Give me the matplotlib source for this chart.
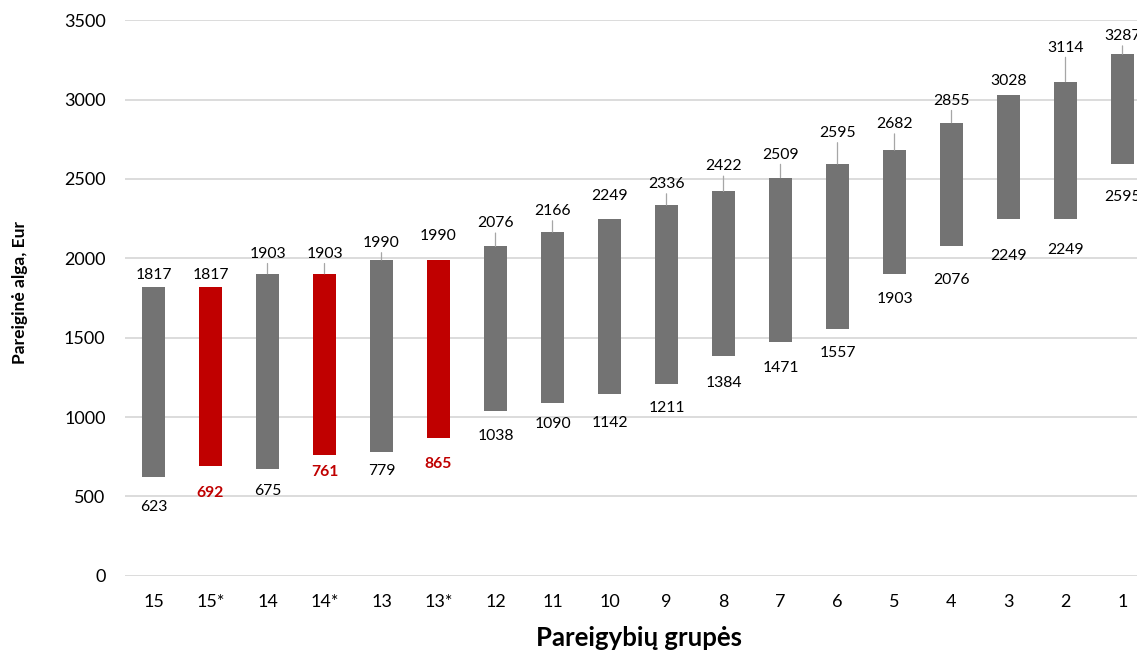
import numpy as np
import matplotlib
matplotlib.use("Agg")
import matplotlib.pyplot as plt

plt.rcParams['font.family'] = ['Lato', 'DejaVu Sans']

# pareigybių grupės ir algų ribos
grupes = ['15', '15*', '14', '14*', '13', '13*', '12', '11', '10', '9',
          '8', '7', '6', '5', '4', '3', '2', '1']
alga_min = [623, 692, 675, 761, 779, 865, 1038, 1090, 1142, 1211,
            1384, 1471, 1557, 1903, 2076, 2249, 2249, 2595]
alga_max = [1817, 1817, 1903, 1903, 1990, 1990, 2076, 2166, 2249, 2336,
            2422, 2509, 2595, 2682, 2855, 3028, 3114, 3287]
raudonos = ['15*', '14*', '13*']

# etikečių atstumai (px) nuo stulpelio galų, kaip originale
virsus_px = [12, 12, 20, 20, 17, 24, 23, 21, 23, 21, 25, 23, 31, 26, 22, 14, 34, 18]
apacia_px = [30, 27, 22, 17, 19, 26, 25, 21, 29, 24, 27, 26, 24, 25, 34, 37, 31, 33]
linija = [False, False, True, True, True, False, True, True, False, True,
          True, True, True, True, True, False, True, True]

pilka = '#737373'
raudona = '#C00000'

W, H = 1137, 651
fig = plt.figure(figsize=(W / 100, H / 100), dpi=100)
x = np.arange(len(grupes))
zing = 57.0
ax = fig.add_axes([125 / W, (H - 575.7) / H, 18 * zing / W, 555.4 / H])

spalvos = [raudona if g in raudonos else pilka for g in grupes]
aukstis = np.array(alga_max) - np.array(alga_min)
ax.bar(x, aukstis, bottom=alga_min, width=0.4, color=spalvos, zorder=3)

ax.set_xlim(-0.5, 17.5)
ax.set_ylim(0, 3500)
ax.set_yticks(np.arange(0, 3501, 500))
ax.set_xticks(x)
ax.set_xticklabels(grupes)
ax.grid(axis='y', color='#D9D9D9', lw=1.3, zorder=0)
ax.tick_params(axis='both', length=0, labelsize=13, colors='#000000')
ax.tick_params(axis='y', pad=14)
ax.tick_params(axis='x', pad=13)
for s in ax.spines.values():
    s.set_visible(False)

for i, g in enumerate(grupes):
    kw = {}
    if linija[i]:
        kw['arrowprops'] = dict(arrowstyle='-', color='#A6A6A6', lw=0.9,
                                shrinkA=0, shrinkB=0)
    ax.annotate(str(alga_max[i]), (x[i], alga_max[i]),
                xytext=(0, virsus_px[i]), textcoords='offset pixels',
                ha='center', va='center', fontsize=11.3, color='#000000',
                annotation_clip=False, **kw)
    red = g in raudonos
    ax.annotate(str(alga_min[i]), (x[i], alga_min[i]),
                xytext=(0, -apacia_px[i]), textcoords='offset pixels',
                ha='center', va='center', fontsize=11.3,
                color=raudona if red else '#000000',
                fontweight='bold' if red else 'normal')

fig.text(20 / W, 1 - 292 / H, 'Pareiginė alga, Eur', rotation=90,
         ha='center', va='center', fontsize=12.5, fontweight='bold')
fig.text(639 / W, 1 - 638 / H, 'Pareigybių grupės', ha='center',
         va='center', fontsize=18.5, fontweight='bold')

fig.savefig('out.png', dpi=100)
